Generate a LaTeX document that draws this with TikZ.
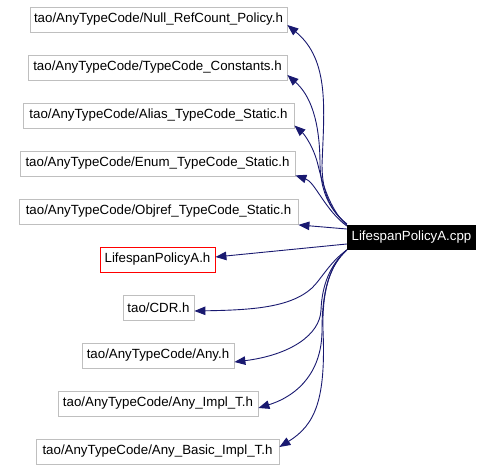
\documentclass[tikz,border=0pt]{standalone}
\usepackage{fontspec}
\setmainfont{Liberation Sans}
\usetikzlibrary{arrows.meta}
\definecolor{edgecol}{HTML}{191970}
\definecolor{boxgray}{HTML}{BFBFBF}
\tikzset{
  filebox/.style={draw=boxgray, line width=0.8pt, fill=white, minimum height=25pt, inner sep=0pt, font=\fontsize{13.3}{15}\selectfont},
  redbox/.style={filebox, draw=red},
  mainbox/.style={fill=black, text=white, minimum height=25pt, minimum width=129pt, inner sep=0pt, font=\fontsize{13.3}{15}\selectfont},
  dep/.style={draw=edgecol, line width=0.9pt, -{Triangle[length=11pt,width=8.5pt]}}
}
\begin{document}
\begin{tikzpicture}[x=1pt,y=-1pt]
\useasboundingbox (0,0) rectangle (494,470);
\node[filebox, minimum width=257pt] (n1) at (158.5,19.5) {tao/AnyTypeCode/Null\_RefCount\_Policy.h};
\node[filebox, minimum width=259pt] (n2) at (157.5,67.5) {tao/AnyTypeCode/TypeCode\_Constants.h};
\node[filebox, minimum width=271pt] (n3) at (158.5,115.5) {tao/AnyTypeCode/Alias\_TypeCode\_Static.h};
\node[filebox, minimum width=275pt] (n4) at (157.5,163.5) {tao/AnyTypeCode/Enum\_TypeCode\_Static.h};
\node[filebox, minimum width=279pt] (n5) at (158.5,211.5) {tao/AnyTypeCode/Objref\_TypeCode\_Static.h};
\node[redbox, minimum width=115pt] (n6) at (157.5,259.5) {LifespanPolicyA.h};
\node[filebox, minimum width=71pt] (n7) at (158.5,307.5) {tao/CDR.h};
\node[filebox, minimum width=152pt] (n8) at (158,355.5) {tao/AnyTypeCode/Any.h};
\node[filebox, minimum width=200pt] (n9) at (158,403.5) {tao/AnyTypeCode/Any\_Impl\_T.h};
\node[filebox, minimum width=243pt] (n10) at (157.5,451.5) {tao/AnyTypeCode/Any\_Basic\_Impl\_T.h};
\node[mainbox] (m) at (411.5,237) {LifespanPolicyA.cpp};

\draw[dep] ([yshift=13pt]m.west) .. controls (332,212) and (322,195) .. (322,165) .. controls (324,110) and (330,60) .. ([yshift=-5.5pt]n1.east);
\draw[dep] ([yshift=13pt]m.west) .. controls (332,212) and (321,195) .. (320,165) .. controls (320,120) and (310,95) .. ([yshift=-7.5pt]n2.east);
\draw[dep] ([yshift=12pt]m.west) .. controls (335,215) and (325,195) .. (318,165) .. controls (314,148) and (305,135) .. ([yshift=-10pt]n3.east);
\draw[dep] ([yshift=11pt]m.west) .. controls (325,210) and (315,182) .. ([yshift=1pt]n4.south east);
\draw[dep] ([yshift=8pt]m.west) -- ([yshift=-0.5pt]n5.south east);
\draw[dep] ([yshift=-7pt]m.west) -- ([yshift=2.5pt]n6.east);
\draw[dep] ([yshift=-13pt]m.west) .. controls (330,262) and (322,278) .. (312,288) .. controls (290,308) and (250,310) .. ([yshift=-3.5pt]n7.east);
\draw[dep] ([yshift=-13pt]m.west) .. controls (330,265) and (322,285) .. (321,310) .. controls (320,335) and (290,355) .. ([yshift=-6.5pt]n8.east);
\draw[dep] ([yshift=-13pt]m.west) .. controls (330,265) and (322,290) .. (322,330) .. controls (322,370) and (300,395) .. ([yshift=-4.5pt]n9.east);
\draw[dep] ([yshift=-13pt]m.west) .. controls (330,265) and (322,290) .. (323,330) .. controls (326,400) and (315,425) .. ([yshift=4.5pt]n10.east);
\end{tikzpicture}
\end{document}
